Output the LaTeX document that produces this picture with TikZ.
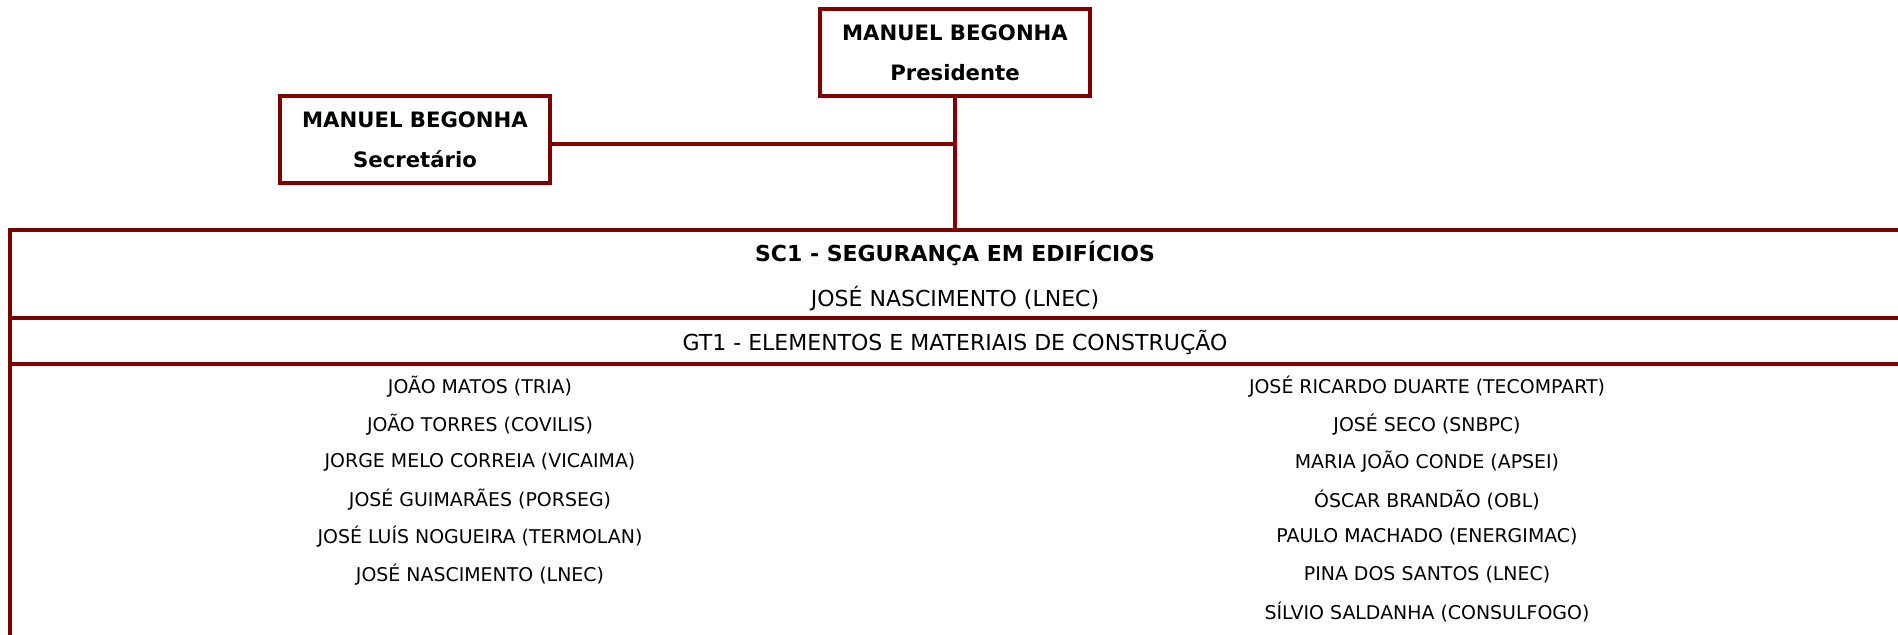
\documentclass[tikz,border=0pt]{standalone}
\usepackage{fontspec}
\setmainfont{DejaVu Sans}
\usepackage[dvipsnames]{xcolor}
\definecolor{bordo}{HTML}{800000}

\begin{document}
\begin{tikzpicture}[x=0.75pt,y=-0.75pt,line width=3pt,draw=bordo,
    chefe/.style={draw=bordo,rectangle,minimum width=202pt,minimum height=65pt,align=center,font=\bfseries\fontsize{15.9}{30}\selectfont},
    linha/.style={font=\fontsize{16.5}{18}\selectfont},
    membro/.style={font=\fontsize{14.2}{16}\selectfont}]
    \useasboundingbox (0,0) rectangle (1898,635);

    \node[chefe] (pres) at (955,52.5) {MANUEL BEGONHA\\Presidente};
    \node[chefe] (sec) at (415,139.5) {MANUEL BEGONHA\\Secretário};
    \coordinate (sctop) at (955,230);

    % caixa da subcomissao
    \draw[bordo] (1898,230) -- (10,230) -- (10,635);
    \draw[bordo] (10,318) -- (1898,318);
    \draw[bordo] (10,364) -- (1898,364);

    \node[linha,font=\bfseries\fontsize{16.5}{18}\selectfont] (sc) at (955,253) {SC1 - SEGURANÇA EM EDIFÍCIOS};
    \node[linha] (coord) at (955,298) {JOSÉ NASCIMENTO (LNEC)};
    \node[linha] (gt) at (955,342) {GT1 - ELEMENTOS E MATERIAIS DE CONSTRUÇÃO};

    \foreach \nome [count=\i] in {JOÃO MATOS (TRIA),JOÃO TORRES (COVILIS),JORGE MELO CORREIA (VICAIMA),JOSÉ GUIMARÃES (PORSEG),JOSÉ LUÍS NOGUEIRA (TERMOLAN),JOSÉ NASCIMENTO (LNEC)}
        \node[membro] (esq\i) at (480,{387+37.5*(\i-1)}) {\nome};
    \foreach \nome [count=\i] in {JOSÉ RICARDO DUARTE (TECOMPART),JOSÉ SECO (SNBPC),MARIA JOÃO CONDE (APSEI),ÓSCAR BRANDÃO (OBL),PAULO MACHADO (ENERGIMAC),PINA DOS SANTOS (LNEC),SÍLVIO SALDANHA (CONSULFOGO)}
        \node[membro] (dir\i) at (1427,{387+37.5*(\i-1)}) {\nome};

    \draw[bordo] ([yshift=-3pt]sec.east) -- ([yshift=-3pt]sec.east -| pres.south);
    \draw[bordo] (pres.south) -- (sctop);
\end{tikzpicture}
\end{document}
